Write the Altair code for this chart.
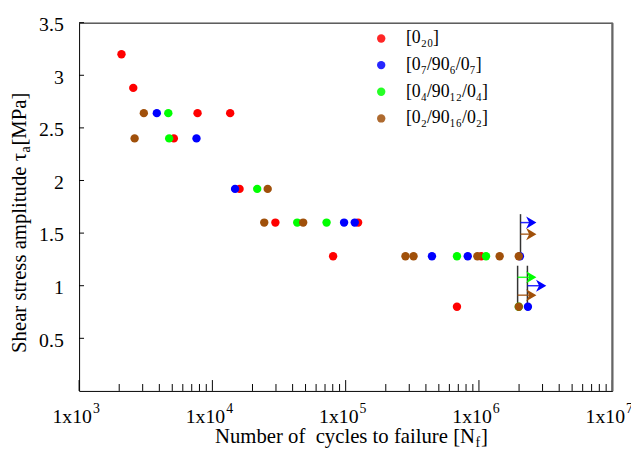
import altair as alt
import pandas as pd

FONT = "Liberation Serif"

series = ["[0₂₀]", "[0₇/90₆/0₇]", "[0₄/90₁₂/0₄]", "[0₂/90₁₆/0₂]"]
colors = ["#ff0000", "#0000ff", "#00ff00", "#a0500a"]

red_N = [2080, 2550, 7740, 13600, 5140, 16000, 29700, 124000, 80500, 1040000, 684000]
red_tau = [3.2, 2.88, 2.64, 2.64, 2.40, 1.92, 1.60, 1.60, 1.28, 1.28, 0.80]

blue_N = [3830, 7600, 14800, 97300, 117000, 444000, 824000, 2030000, 2330000]
blue_tau = [2.64, 2.40, 1.92, 1.60, 1.60, 1.28, 1.28, 1.28, 0.80]

green_N = [4670, 4740, 21700, 43300, 71900, 684000, 1130000, 1990000]
green_tau = [2.64, 2.40, 1.92, 1.60, 1.60, 1.28, 1.28, 0.80]

brown_N = [3060, 2610, 26000, 24500, 48000, 281000, 323000, 973000, 1430000, 1990000, 1990000]
brown_tau = [2.64, 2.40, 1.92, 1.60, 1.60, 1.28, 1.28, 1.28, 1.28, 1.28, 0.80]

# run-out arrows
arrow_start = [2.05e6, 2.05e6, 1.95e6, 2.31e6, 1.95e6]
arrow_end = [2.47e6, 2.47e6, 2.47e6, 2.93e6, 2.47e6]
arrow_tau = [1.60, 1.49, 1.08, 1.00, 0.91]
arrow_color = ["#0000ff", "#a0500a", "#00ff00", "#0000ff", "#a0500a"]

# vertical run-out markers
vline_N = [2.05e6, 1.95e6, 2.31e6]
vline_top = [1.68, 1.19, 1.19]
vline_bot = [1.31, 0.83, 0.83]

decades = [1e3, 1e4, 1e5, 1e6, 1e7]
decade_exp = ["3", "4", "5", "6", "7"]
minor_ticks = [k * 10 ** d for d in range(3, 7) for k in range(2, 10)]
y_ticks = [0.5, 1.0, 1.5, 2.0, 2.5, 3.0, 3.5]

rows = []
for s, Ns, ts in zip(series, [red_N, blue_N, green_N, brown_N],
                     [red_tau, blue_tau, green_tau, brown_tau]):
    for n, t in zip(Ns, ts):
        rows.append({"series": s, "N": n, "tau": t})
pts = pd.DataFrame(rows)

arrows = pd.DataFrame({"N": arrow_start, "end": arrow_end, "tau": arrow_tau, "hex": arrow_color})
vlines = pd.DataFrame({"N": vline_N, "tau": vline_top, "t2": vline_bot})
dec_df = pd.DataFrame({"N": decades, "exp": decade_exp})
minor_df = pd.DataFrame({"N": minor_ticks})
ytick_df = pd.DataFrame({"tau": y_ticks})
one = alt.Data(values=[{"a": 1}])

xscale = alt.Scale(type="log", domain=[1e3, 1e7])
yscale = alt.Scale(domain=[0, 3.5])
yaxis = alt.Axis(values=y_ticks, format="~g", domain=False, ticks=False, grid=False,
                 labelPadding=16, labelFontSize=20, labelFont=FONT, labelColor="black",
                 labelOffset=2, title=None)


def X(field="N"):
    return alt.X(f"{field}:Q", scale=xscale, axis=None)


def Y(field="tau"):
    return alt.Y(f"{field}:Q", scale=yscale, axis=yaxis)


vl = alt.Chart(vlines).mark_rule(color="#333333", strokeWidth=1.5).encode(
    x=X(), y=Y(), y2="t2:Q")

arr_line = alt.Chart(arrows).mark_rule(strokeWidth=1.5, opacity=0.85).encode(
    x=X(), x2="end:Q", y=Y(), color=alt.Color("hex:N", scale=None))

arr_head = alt.Chart(arrows).mark_point(
    shape="M -0.85 -1 L 0.85 0 L -0.85 1 L -0.35 0 Z", filled=True, size=150, opacity=1
).encode(x=alt.X("end:Q", scale=xscale, axis=None), y=Y(), color=alt.Color("hex:N", scale=None))

points = alt.Chart(pts).mark_circle(size=72, opacity=1).encode(
    x=X(), y=Y(),
    color=alt.Color("series:N", scale=alt.Scale(domain=series, range=colors),
                    legend=alt.Legend(orient="none", legendX=297, legendY=7, title=None,
                                      labelFont=FONT, labelFontSize=18, labelColor="black",
                                      symbolSize=72, symbolType="circle", rowPadding=9,
                                      labelOffset=16, padding=0, labelLimit=300)))

major = alt.Chart(dec_df).mark_rule(color="black", strokeWidth=1).encode(
    x=X(), y=alt.value(373), y2=alt.value(362))
minor = alt.Chart(minor_df).mark_rule(color="black", strokeWidth=1).encode(
    x=X(), y=alt.value(373), y2=alt.value(366))
yt = alt.Chart(ytick_df).mark_rule(color="black", strokeWidth=1).encode(
    y=Y(), x=alt.value(0), x2=alt.value(5))

xlab = alt.Chart(dec_df).mark_text(font=FONT, fontSize=20, align="right", baseline="middle",
                                   dx=13, color="black").encode(
    x=X(), y=alt.value(399), text=alt.value("1x10"))
xexp = alt.Chart(dec_df).mark_text(font=FONT, fontSize=14, align="left", baseline="middle",
                                   dx=14, color="black").encode(
    x=X(), y=alt.value(391), text="exp:N")

xt1 = alt.Chart(one).mark_text(font=FONT, fontSize=21, align="right", baseline="middle",
                               color="black").encode(
    x=alt.value(401), y=alt.value(420), text=alt.value("Number of\u00a0 cycles to failure [N"))
xt2 = alt.Chart(one).mark_text(font=FONT, fontSize=14, align="left", baseline="middle",
                               color="black").encode(
    x=alt.value(401.5), y=alt.value(426), text=alt.value("f"))
xt3 = alt.Chart(one).mark_text(font=FONT, fontSize=21, align="left", baseline="middle",
                               color="black").encode(
    x=alt.value(407), y=alt.value(420), text=alt.value("]"))

yt1 = alt.Chart(one).mark_text(font=FONT, fontSize=21, align="right", baseline="middle",
                               angle=270, color="black").encode(
    x=alt.value(-60), y=alt.value(132), text=alt.value("Shear stress amplitude τ"))
yt2 = alt.Chart(one).mark_text(font=FONT, fontSize=14, align="left", baseline="middle",
                               angle=270, color="black").encode(
    x=alt.value(-54), y=alt.value(131.5), text=alt.value("a"))
yt3 = alt.Chart(one).mark_text(font=FONT, fontSize=21, align="left", baseline="middle",
                               angle=270, color="black").encode(
    x=alt.value(-60), y=alt.value(124.5), text=alt.value("\u00a0[MPa]"))

right_edge = alt.Chart(one).mark_rule(color="#666666", strokeWidth=2).encode(
    x=alt.value(540), y=alt.value(0), y2=alt.value(373))

chart = alt.layer(
    vl, arr_line, arr_head, points, major, minor, yt, right_edge,
    xlab, xexp, xt1, xt2, xt3, yt1, yt2, yt3
).properties(
    width=540, height=373,
    padding={"left": 72, "top": 12, "right": 19, "bottom": 59},
    autosize=alt.AutoSizeParams(type="none"),
    background="white",
).configure_view(stroke="black", strokeWidth=1)

chart.save("out.html", embed_options={"renderer": "svg", "actions": False})
